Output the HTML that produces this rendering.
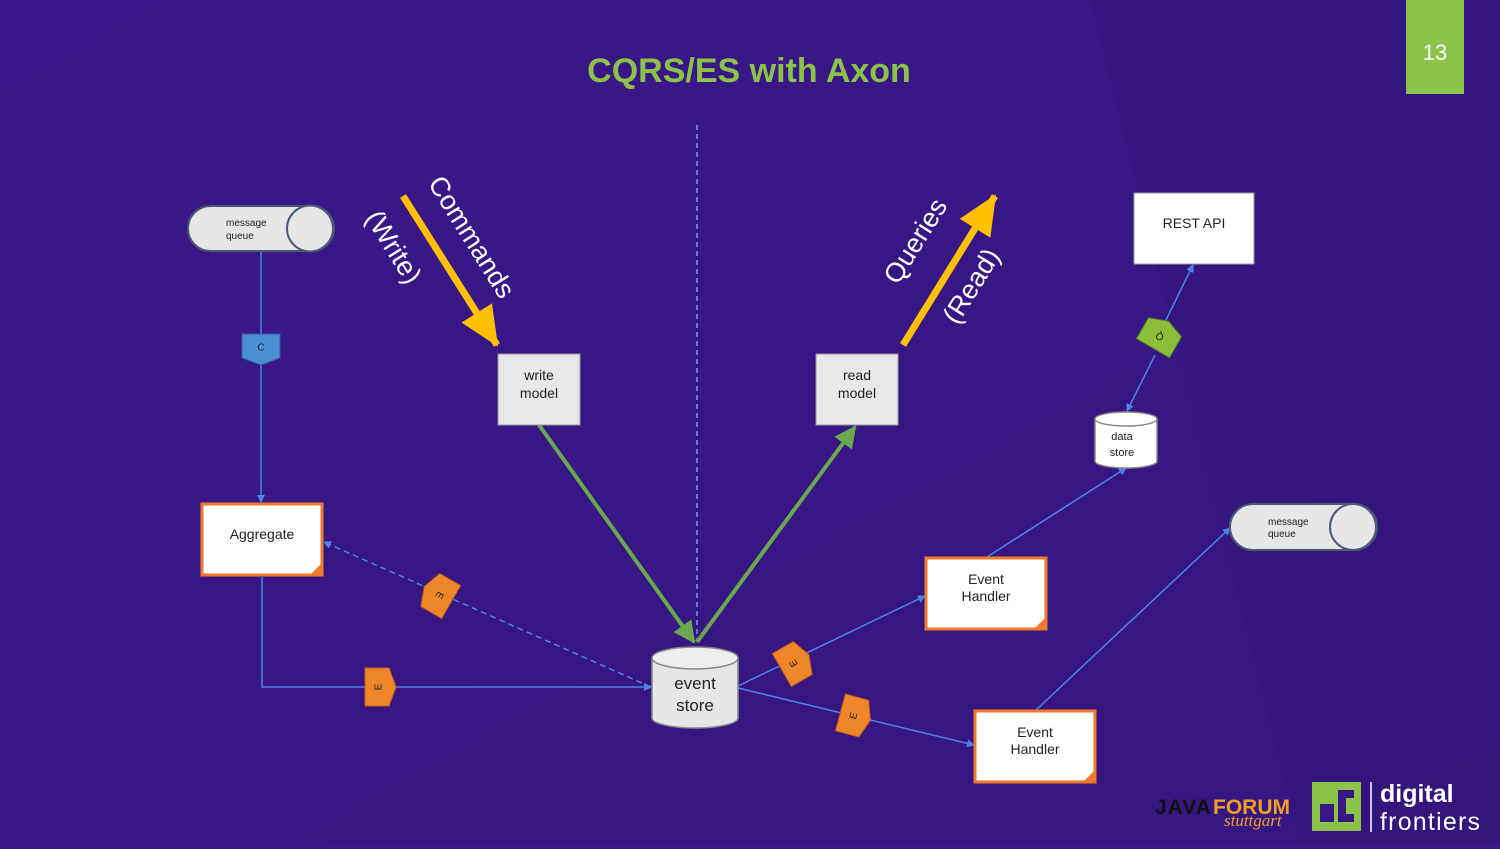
<!DOCTYPE html>
<html><head><meta charset="utf-8"><style>
html,body{margin:0;padding:0;}
body{width:1500px;height:844px;overflow:hidden;background:#3a1786;font-family:"Liberation Sans",sans-serif;}
</style></head><body>
<svg width="1500" height="844" viewBox="0 0 1500 844" xmlns="http://www.w3.org/2000/svg" font-family="Liberation Sans, sans-serif">
<defs>
<linearGradient id="bg" x1="0" y1="0" x2="1" y2="1">
<stop offset="0" stop-color="#3a1788"/><stop offset="1" stop-color="#36167f"/></linearGradient>
<marker id="ab" markerWidth="8" markerHeight="8" refX="7" refY="4" orient="auto" markerUnits="userSpaceOnUse"><path d="M0,0 L8,4 L0,8 z" fill="#4a86e8"/></marker>
<marker id="ag" markerWidth="22" markerHeight="22" refX="20" refY="11" orient="auto" markerUnits="userSpaceOnUse"><path d="M0,0 L22,11 L0,22 z" fill="#6aa84f"/></marker>
<marker id="ay" markerWidth="40" markerHeight="40" refX="38" refY="20" orient="auto" markerUnits="userSpaceOnUse"><path d="M0,2 L40,20 L0,38 z" fill="#ffc000"/></marker>
</defs>
<rect width="1500" height="844" fill="url(#bg)"/>
<polygon points="1090,0 1500,0 1500,844 1300,844" fill="#331377" opacity="0.4"/>
<!-- page number -->
<rect x="1406" y="0" width="58" height="94" fill="#8bc34a"/>
<text x="1435" y="60" font-size="22" fill="#fff" text-anchor="middle">13</text>
<text x="749" y="82" font-size="34" font-weight="bold" fill="#8bc34a" text-anchor="middle">CQRS/ES with Axon</text>
<!-- dashed center -->
<line x1="697" y1="125" x2="697" y2="640" stroke="#6d9eeb" stroke-width="1.5" stroke-dasharray="5,4"/>
<!-- yellow arrows -->
<line x1="403" y1="196" x2="497" y2="345" stroke="#ffc000" stroke-width="7" marker-end="url(#ay)"/>
<line x1="903" y1="345" x2="995" y2="196" stroke="#ffc000" stroke-width="7" marker-end="url(#ay)"/>
<text transform="translate(470,238) rotate(58)" font-size="27" fill="#fff" text-anchor="middle" dominant-baseline="middle">Commands</text>
<text transform="translate(392,248) rotate(58)" font-size="27" fill="#fff" text-anchor="middle" dominant-baseline="middle">(Write)</text>
<text transform="translate(917,242) rotate(-58)" font-size="27" fill="#fff" text-anchor="middle" dominant-baseline="middle">Queries</text>
<text transform="translate(973,287) rotate(-58)" font-size="27" fill="#fff" text-anchor="middle" dominant-baseline="middle">(Read)</text>
<!-- green arrows -->
<line x1="539" y1="425" x2="694" y2="642" stroke="#6aa84f" stroke-width="4" marker-end="url(#ag)"/>
<line x1="697" y1="642" x2="855" y2="427" stroke="#6aa84f" stroke-width="4" marker-end="url(#ag)"/>
<!-- blue connectors -->
<g stroke="#4a86e8" stroke-width="1.5" fill="none">
<line x1="261" y1="252" x2="261" y2="502" marker-end="url(#ab)"/>
<polyline points="262,577 262,687 651,687" marker-end="url(#ab)"/>
<line x1="651" y1="687" x2="324" y2="542" stroke-dasharray="6,4" marker-end="url(#ab)"/>
<line x1="738" y1="686" x2="925" y2="596" marker-end="url(#ab)"/>
<line x1="738" y1="688" x2="974" y2="745" marker-end="url(#ab)"/>
<line x1="987" y1="557" x2="1126" y2="468" marker-end="url(#ab)"/>
<line x1="1036" y1="710" x2="1230" y2="528" marker-end="url(#ab)"/>
<line x1="1155" y1="355" x2="1127" y2="411" marker-end="url(#ab)"/>
<line x1="1165" y1="322" x2="1193" y2="265" marker-end="url(#ab)"/>
</g>
<!-- message queues -->
<g stroke="#4a5a75" stroke-width="2" fill="#e6e6e6">
<rect x="188" y="206" width="146" height="45" rx="22.5"/>
<circle cx="310" cy="228.5" r="23"/>
<rect x="1230" y="504" width="147" height="46" rx="23"/>
<circle cx="1353" cy="527" r="23"/>
</g>
<text x="226" y="226" font-size="10" fill="#222">message</text>
<text x="226" y="239" font-size="10" fill="#222">queue</text>
<text x="1268" y="525" font-size="10" fill="#222">message</text>
<text x="1268" y="537" font-size="10" fill="#222">queue</text>
<!-- note boxes grey -->
<g font-size="14" fill="#222" text-anchor="middle">
<rect x="498" y="354" width="82" height="71" fill="#e8e8e8" stroke="#999"/>
<text x="539" y="380">write</text><text x="539" y="398">model</text>
<rect x="816" y="354" width="82" height="71" fill="#e8e8e8" stroke="#999"/>
<text x="857" y="380">read</text><text x="857" y="398">model</text>
<rect x="1134" y="193" width="120" height="71" fill="#fff" stroke="#999"/>
<text x="1194" y="228">REST API</text>
</g>
<!-- orange boxes -->
<g stroke="#f0792b" stroke-width="3" fill="#fff">
<rect x="202" y="504" width="120" height="71"/>
<rect x="926" y="558" width="120" height="71"/>
<rect x="975" y="711" width="120" height="71"/>
</g>
<g fill="#f0792b">
<polygon points="310,575 322,563 322,575"/>
<polygon points="1034,629 1046,617 1046,629"/>
<polygon points="1083,782 1095,770 1095,782"/>
</g>
<g font-size="14" fill="#222" text-anchor="middle">
<text x="262" y="539">Aggregate</text>
<text x="986" y="584">Event</text><text x="986" y="601">Handler</text>
<text x="1035" y="737">Event</text><text x="1035" y="754">Handler</text>
</g>
<!-- event store cylinder -->
<path d="M652,658 L652,718 A43,10 0 0 0 738,718 L738,658" fill="#e6e6e6" stroke="#888" stroke-width="1.5"/>
<ellipse cx="695" cy="658" rx="43" ry="11" fill="#eee" stroke="#888" stroke-width="1.5"/>
<text x="695" y="689" font-size="17" fill="#222" text-anchor="middle">event</text>
<text x="695" y="711" font-size="17" fill="#222" text-anchor="middle">store</text>
<!-- data store -->
<path d="M1095,419 L1095,461 A31,7 0 0 0 1157,461 L1157,419" fill="#fff" stroke="#888" stroke-width="1.5"/>
<ellipse cx="1126" cy="419" rx="31" ry="7" fill="#fff" stroke="#888" stroke-width="1.5"/>
<text x="1122" y="440" font-size="11" fill="#222" text-anchor="middle">data</text>
<text x="1122" y="456" font-size="11" fill="#222" text-anchor="middle">store</text>
<!-- tags -->
<g font-size="10" fill="#222" text-anchor="middle" dominant-baseline="middle">
<g transform="translate(261,348)"><polygon points="-19,-14 19,-14 19,10 0,17 -19,10" fill="#4a8fd4" stroke="#2f5f99"/><text y="0">C</text></g>
<g transform="translate(379,687) rotate(-90)"><polygon points="-19,-14 19,-14 19,10 0,17 -19,10" fill="#f0862b" stroke="#c06010"/><text y="0">E</text></g>
<g transform="translate(439,595) rotate(120)"><polygon points="-19,-14 19,-14 19,10 0,17 -19,10" fill="#f0862b" stroke="#c06010"/><text y="0">E</text></g>
<g transform="translate(794,663) rotate(-120)"><polygon points="-19,-14 19,-14 19,10 0,17 -19,10" fill="#f0862b" stroke="#c06010"/><text y="0">E</text></g>
<g transform="translate(854,716) rotate(-75)"><polygon points="-19,-14 19,-14 19,10 0,17 -19,10" fill="#f0862b" stroke="#c06010"/><text y="0">E</text></g>
<g transform="translate(1160,336) rotate(-150)"><polygon points="-19,-14 19,-14 19,10 0,17 -19,10" fill="#8bbf3a" stroke="#5a8a20"/><text y="0">Q</text></g>
</g>
<!-- logos -->
<text x="1155" y="814" font-size="21" font-weight="bold" fill="#111" letter-spacing="1">JAVA</text>
<text x="1213" y="814" font-size="21" font-weight="bold" fill="#f0a020">FORUM</text>
<text x="1224" y="826" font-size="17" font-style="italic" fill="#f0a020" font-family="Liberation Serif, serif">stuttgart</text>
<rect x="1312" y="782" width="49" height="49" fill="#8bc34a"/>
<path d="M1320,804 h14 v18 h-14 z M1338,790 h16 v8 h-16 z M1338,798 h8 v16 h8 v8 h-16 z" fill="#3a1786"/>
<line x1="1371" y1="782" x2="1371" y2="832" stroke="#fff" stroke-width="1.5"/>
<text x="1380" y="802" font-size="25" font-weight="bold" fill="#fff">digital</text>
<text x="1380" y="830" font-size="25" fill="#fff" textLength="100">frontiers</text>
</svg>
</body></html>
